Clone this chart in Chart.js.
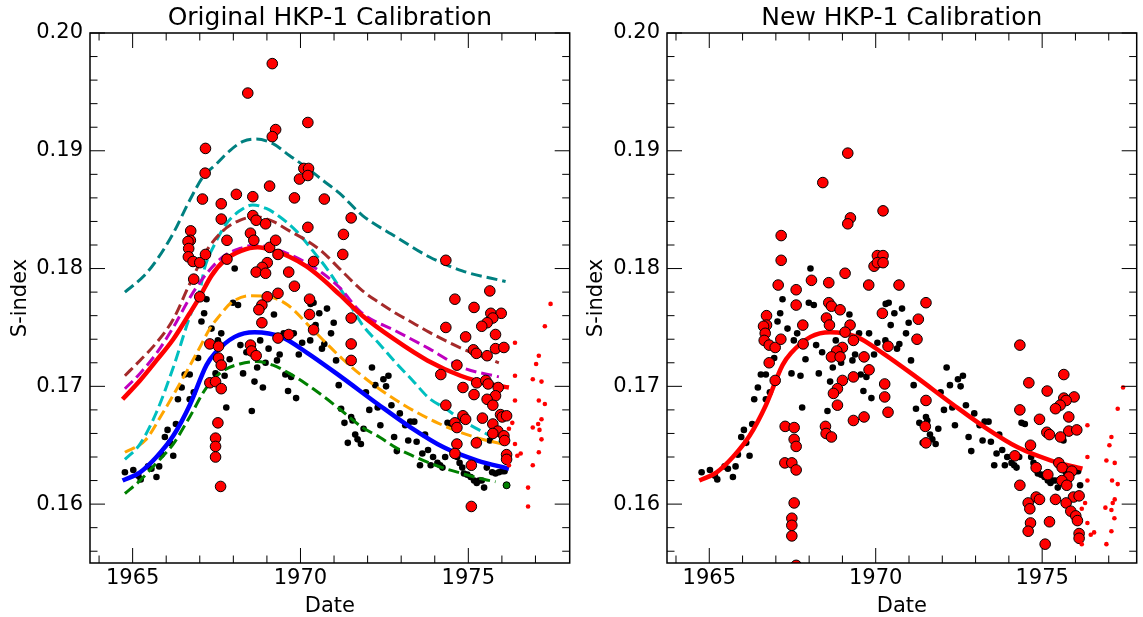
<!DOCTYPE html>
<html>
<head>
<meta charset="utf-8">
<script src="https://cdn.jsdelivr.net/npm/chart.js@4.4.0/dist/chart.umd.min.js"></script>
<style>
  html, body { margin: 0; padding: 0; background: #fff; overflow: hidden; }
  #wrap { position: relative; width: 1143px; height: 617px; }
  .panel { position: absolute; top: 0; height: 617px; }
</style>
</head>
<body>
<div id="wrap">
  <div class="panel" style="left:0;width:576px"><canvas id="origChart"></canvas></div>
  <div class="panel" style="left:576px;width:567px"><canvas id="newChart"></canvas></div>
</div>
<script>
// ---- tick labels ----
const yearTicks = [1965, 1970, 1975];
const sTicks = [0.16, 0.17, 0.18, 0.19, 0.20];

// ---- observations [date, S] (black = same in both panels) ----
const blackObs = [[1964.77,0.1627],[1965.02,0.1629],[1965.17,0.1624],[1965.24,0.1621],[1965.46,0.1632],[1965.56,0.1630],[1965.71,0.1623],[1965.79,0.1632],[1965.86,0.1642],[1966.21,0.1641],[1966.11,0.1652],[1965.96,0.1657],[1966.04,0.1663],[1966.29,0.1668],[1966.35,0.1689],[1966.46,0.1699],[1966.55,0.1710],[1966.70,0.1710],[1966.70,0.1689],[1966.82,0.1695],[1966.95,0.1724],[1967.05,0.1755],[1967.13,0.1762],[1967.20,0.1774],[1967.35,0.1749],[1967.47,0.1711],[1967.54,0.1739],[1967.64,0.1745],[1967.74,0.1709],[1967.79,0.1682],[1967.89,0.1723],[1967.99,0.1771],[1968.14,0.1769],[1968.21,0.1735],[1968.29,0.1711],[1968.39,0.1729],[1968.55,0.1679],[1968.63,0.1704],[1968.71,0.1716],[1968.80,0.1739],[1968.88,0.1699],[1968.96,0.1720],[1969.05,0.1732],[1969.21,0.1761],[1969.30,0.1722],[1969.38,0.1727],[1969.50,0.1745],[1969.55,0.1710],[1969.63,0.1696],[1969.72,0.1708],[1969.80,0.1745],[1969.87,0.1690],[1969.95,0.1727],[1970.05,0.1737],[1970.29,0.1739],[1970.30,0.1770],[1970.39,0.1771],[1970.45,0.1752],[1970.56,0.1762],[1970.64,0.1732],[1970.71,0.1736],[1970.79,0.1766],[1970.99,0.1754],[1971.06,0.1722],[1970.91,0.1745],[1971.14,0.1701],[1971.21,0.1681],[1971.31,0.1669],[1971.41,0.1652],[1971.51,0.1674],[1971.55,0.1671],[1971.63,0.1659],[1971.70,0.1655],[1971.80,0.1651],[1971.88,0.1664],[1971.95,0.1695],[1972.05,0.1680],[1972.13,0.1716],[1972.23,0.1701],[1972.30,0.1682],[1972.38,0.1667],[1972.47,0.1706],[1972.55,0.1700],[1972.62,0.1709],[1972.71,0.1684],[1972.79,0.1657],[1972.87,0.1645],[1972.96,0.1677],[1973.12,0.1667],[1973.21,0.1654],[1973.27,0.1670],[1973.39,0.1670],[1973.46,0.1653],[1973.56,0.1633],[1973.63,0.1643],[1973.71,0.1659],[1973.80,0.1646],[1973.88,0.1633],[1973.95,0.1640],[1974.08,0.1635],[1974.16,0.1633],[1974.23,0.1631],[1974.31,0.1640],[1974.38,0.1669],[1974.48,0.1668],[1974.67,0.1640],[1974.74,0.1635],[1974.82,0.1631],[1974.87,0.1626],[1974.97,0.1625],[1975.07,0.1623],[1975.17,0.1620],[1975.25,0.1618],[1975.32,0.1620],[1975.40,0.1620],[1975.47,0.1614],[1975.55,0.1631],[1975.64,0.1654],[1975.71,0.1627],[1975.81,0.1626],[1975.91,0.1627],[1976.01,0.1628],[1976.08,0.1628],[1968.04,0.1800],[1976.14,0.1616]];

const origRed = [[1969.16,0.1974],[1968.43,0.1949],[1970.22,0.1924],[1969.26,0.1918],[1969.16,0.1912],[1967.17,0.1902],[1967.16,0.1881],[1970.10,0.1885],[1970.24,0.1885],[1969.97,0.1876],[1970.22,0.1879],[1969.08,0.1870],[1967.08,0.1859],[1968.09,0.1863],[1968.58,0.1861],[1969.82,0.1860],[1970.71,0.1859],[1967.64,0.1855],[1967.64,0.1842],[1968.58,0.1845],[1968.68,0.1841],[1968.96,0.1838],[1966.73,0.1832],[1966.72,0.1824],[1966.65,0.1823],[1966.67,0.1817],[1966.66,0.1810],[1966.80,0.1806],[1967.00,0.1805],[1967.17,0.1812],[1967.81,0.1824],[1968.51,0.1830],[1968.61,0.1824],[1969.08,0.1818],[1969.26,0.1824],[1970.22,0.1835],[1969.33,0.1812],[1967.81,0.1808],[1969.01,0.1805],[1968.86,0.1801],[1968.68,0.1797],[1968.96,0.1796],[1969.65,0.1797],[1970.39,0.1806],[1966.82,0.1791],[1969.82,0.1785],[1969.33,0.1779],[1969.01,0.1776],[1970.27,0.1774],[1971.51,0.1843],[1971.28,0.1829],[1971.26,0.1812],[1974.33,0.1807],[1975.64,0.1781],[1974.60,0.1774],[1967.00,0.1776],[1968.85,0.1769],[1968.76,0.1765],[1968.85,0.1754],[1970.27,0.1761],[1970.39,0.1748],[1967.30,0.1736],[1967.56,0.1734],[1967.56,0.1724],[1967.64,0.1718],[1968.51,0.1735],[1968.54,0.1730],[1968.68,0.1726],[1969.33,0.1741],[1969.65,0.1744],[1967.30,0.1703],[1967.47,0.1704],[1967.64,0.1698],[1967.54,0.1669],[1967.47,0.1656],[1967.47,0.1649],[1967.47,0.1640],[1967.62,0.1615],[1975.17,0.1767],[1975.67,0.1762],[1975.98,0.1762],[1975.73,0.1758],[1975.56,0.1754],[1975.40,0.1751],[1974.33,0.1750],[1971.51,0.1758],[1971.51,0.1736],[1971.51,0.1722],[1974.92,0.1742],[1975.81,0.1744],[1975.81,0.1732],[1976.06,0.1733],[1975.15,0.1731],[1975.24,0.1728],[1975.56,0.1726],[1974.66,0.1718],[1974.18,0.1710],[1975.25,0.1703],[1975.52,0.1705],[1975.59,0.1702],[1975.89,0.1699],[1974.84,0.1699],[1975.17,0.1693],[1975.81,0.1692],[1975.56,0.1689],[1975.73,0.1684],[1974.33,0.1684],[1974.84,0.1675],[1974.92,0.1672],[1975.42,0.1673],[1975.96,0.1676],[1976.01,0.1674],[1976.14,0.1675],[1974.60,0.1669],[1974.66,0.1665],[1975.73,0.1668],[1975.88,0.1662],[1975.73,0.1660],[1976.06,0.1658],[1976.08,0.1654],[1975.24,0.1652],[1974.66,0.1651],[1974.60,0.1643],[1976.14,0.1642],[1976.14,0.1638],[1975.09,0.1633],[1975.09,0.1598]];

const origTail = [[1977.45,0.1770],[1977.28,0.1751],[1976.39,0.1737],[1977.10,0.1726],[1977.02,0.1719],[1976.39,0.1709],[1976.92,0.1706],[1977.18,0.1704],[1976.39,0.1688],[1977.10,0.1688],[1977.28,0.1685],[1976.31,0.1669],[1977.18,0.1672],[1977.08,0.1668],[1976.92,0.1665],[1977.12,0.1663],[1976.21,0.1664],[1977.18,0.1655],[1976.39,0.1651],[1977.10,0.1644],[1976.56,0.1643],[1976.46,0.1641],[1976.21,0.1633],[1976.92,0.1633],[1976.78,0.1614],[1976.78,0.1598]];

const greenEnd = [[1976.14,0.1616]];

const newRed = [[1969.16,0.1898],[1968.41,0.1873],[1969.24,0.1843],[1969.16,0.1838],[1970.22,0.1849],[1967.16,0.1828],[1967.16,0.1807],[1970.05,0.1811],[1970.22,0.1811],[1969.95,0.1802],[1970.05,0.1805],[1970.22,0.1805],[1969.08,0.1796],[1968.07,0.1790],[1967.07,0.1786],[1967.61,0.1782],[1968.59,0.1788],[1969.79,0.1786],[1970.70,0.1786],[1967.61,0.1769],[1966.72,0.1760],[1966.72,0.1752],[1966.63,0.1751],[1966.68,0.1745],[1966.65,0.1739],[1966.80,0.1735],[1966.98,0.1733],[1967.15,0.1740],[1967.81,0.1752],[1967.82,0.1736],[1966.80,0.1720],[1966.98,0.1705],[1968.59,0.1771],[1968.67,0.1768],[1968.93,0.1765],[1968.52,0.1758],[1968.61,0.1752],[1969.23,0.1752],[1969.08,0.1746],[1969.33,0.1739],[1969.00,0.1733],[1968.83,0.1730],[1968.67,0.1725],[1968.93,0.1725],[1969.65,0.1725],[1969.80,0.1714],[1969.33,0.1708],[1969.00,0.1705],[1968.85,0.1698],[1968.73,0.1694],[1968.85,0.1684],[1970.27,0.1702],[1970.27,0.1691],[1970.37,0.1678],[1969.65,0.1674],[1969.33,0.1671],[1970.20,0.1762],[1970.37,0.1734],[1968.49,0.1666],[1968.51,0.1660],[1968.67,0.1657],[1967.28,0.1666],[1967.55,0.1665],[1967.55,0.1655],[1967.61,0.1649],[1967.27,0.1635],[1967.48,0.1635],[1967.61,0.1629],[1967.55,0.1601],[1967.48,0.1588],[1967.48,0.1582],[1967.48,0.1573],[1967.61,0.1548],[1971.51,0.1771],[1971.28,0.1757],[1971.24,0.1740],[1971.51,0.1688],[1971.49,0.1666],[1971.51,0.1652],[1974.33,0.1735],[1974.60,0.1703],[1975.15,0.1696],[1975.65,0.1710],[1975.96,0.1691],[1975.65,0.1690],[1975.72,0.1688],[1975.54,0.1684],[1975.40,0.1681],[1974.33,0.1680],[1975.80,0.1674],[1974.92,0.1672],[1975.14,0.1661],[1975.22,0.1659],[1975.80,0.1662],[1976.04,0.1663],[1975.55,0.1657],[1974.65,0.1650],[1974.18,0.1641],[1974.82,0.1631],[1975.17,0.1625],[1975.50,0.1635],[1975.60,0.1631],[1975.89,0.1628],[1975.80,0.1623],[1975.59,0.1620],[1975.74,0.1616],[1974.33,0.1616],[1974.82,0.1606],[1974.92,0.1604],[1975.40,0.1604],[1975.94,0.1606],[1976.11,0.1607],[1974.58,0.1601],[1974.63,0.1596],[1975.72,0.1601],[1975.86,0.1594],[1976.01,0.1590],[1976.06,0.1586],[1975.22,0.1585],[1974.65,0.1584],[1974.58,0.1577],[1976.11,0.1575],[1976.11,0.1571],[1975.09,0.1566]];

const newTail = [[1977.43,0.1699],[1977.27,0.1681],[1976.36,0.1667],[1977.08,0.1657],[1977.02,0.1650],[1976.36,0.1640],[1976.93,0.1637],[1977.18,0.1635],[1976.36,0.1620],[1977.10,0.1620],[1977.27,0.1617],[1977.18,0.1604],[1976.29,0.1601],[1977.12,0.1601],[1976.90,0.1597],[1977.08,0.1595],[1976.19,0.1596],[1977.17,0.1588],[1976.36,0.1584],[1977.08,0.1577],[1976.56,0.1576],[1976.46,0.1574],[1976.19,0.1566],[1976.93,0.1566]];

// ---- fitted curves [date, S] ----
const blackFit = [[1964.70,0.1620],[1965.22,0.1627],[1965.71,0.1640],[1966.21,0.1658],[1966.70,0.1684],[1967.20,0.1718],[1967.45,0.1728],[1968.04,0.1742],[1968.63,0.1746],[1969.43,0.1742],[1970.22,0.1728],[1971.21,0.1708],[1972.30,0.1685],[1973.29,0.1665],[1974.28,0.1648],[1975.27,0.1637],[1976.21,0.1630]];
const redFit = [[1964.70,0.1689],[1965.22,0.1705],[1965.71,0.1722],[1966.21,0.1740],[1966.70,0.1762],[1967.00,0.1776],[1967.35,0.1794],[1967.74,0.1807],[1968.23,0.1815],[1968.73,0.1818],[1969.22,0.1815],[1969.67,0.1810],[1970.17,0.1802],[1970.66,0.1791],[1971.16,0.1778],[1971.80,0.1761],[1972.79,0.1740],[1973.78,0.1722],[1974.77,0.1709],[1975.62,0.1702],[1976.21,0.1699]];
const tealFit = [[1964.77,0.1780],[1965.31,0.1793],[1965.71,0.1807],[1966.21,0.1830],[1966.70,0.1858],[1967.10,0.1878],[1967.50,0.1889],[1967.89,0.1900],[1968.29,0.1908],[1968.68,0.1910],[1969.18,0.1906],[1969.67,0.1896],[1970.17,0.1886],[1970.66,0.1875],[1971.16,0.1864],[1971.85,0.1845],[1972.84,0.1827],[1973.83,0.1810],[1974.82,0.1798],[1976.11,0.1789]];
const brownFit = [[1964.77,0.1709],[1965.22,0.1722],[1965.71,0.1737],[1966.21,0.1757],[1966.70,0.1787],[1967.20,0.1815],[1967.69,0.1832],[1968.19,0.1841],[1968.68,0.1844],[1969.18,0.1840],[1969.67,0.1832],[1970.17,0.1824],[1970.66,0.1814],[1971.16,0.1800],[1971.85,0.1781],[1972.35,0.1771],[1972.84,0.1762],[1973.34,0.1754],[1973.83,0.1746],[1974.82,0.1732],[1975.91,0.1720]];
const magentaFit = [[1964.77,0.1698],[1965.22,0.1711],[1965.71,0.1728],[1966.21,0.1750],[1966.70,0.1775],[1967.10,0.1792],[1967.69,0.1810],[1968.19,0.1817],[1968.68,0.1820],[1969.18,0.1817],[1969.67,0.1812],[1970.17,0.1805],[1970.66,0.1796],[1971.16,0.1784],[1971.80,0.1763],[1972.84,0.1747],[1973.83,0.1732],[1974.82,0.1716],[1975.91,0.1708]];
const cyanFit = [[1964.77,0.1638],[1965.22,0.1651],[1965.71,0.1678],[1966.21,0.1716],[1966.70,0.1759],[1967.00,0.1781],[1967.15,0.1801],[1967.45,0.1821],[1967.79,0.1838],[1968.19,0.1849],[1968.58,0.1854],[1968.98,0.1851],[1969.38,0.1844],[1969.87,0.1832],[1970.37,0.1815],[1970.86,0.1797],[1971.36,0.1775],[1971.85,0.1752],[1972.35,0.1736],[1972.84,0.1720],[1973.34,0.1705],[1973.83,0.1690],[1974.33,0.1681],[1974.82,0.1671],[1975.32,0.1663],[1976.11,0.1651]];
const orangeFit = [[1964.77,0.1644],[1965.37,0.1654],[1965.91,0.1678],[1966.46,0.1705],[1967.00,0.1733],[1967.30,0.1749],[1967.59,0.1760],[1967.94,0.1771],[1968.48,0.1777],[1969.08,0.1776],[1969.62,0.1769],[1970.37,0.1748],[1971.26,0.1723],[1972.10,0.1703],[1973.09,0.1684],[1974.08,0.1669],[1975.17,0.1657],[1976.01,0.1651]];
const greenFit = [[1964.77,0.1609],[1965.22,0.1620],[1965.71,0.1635],[1966.21,0.1651],[1966.70,0.1674],[1967.20,0.1699],[1967.69,0.1713],[1968.19,0.1719],[1968.68,0.1721],[1969.18,0.1718],[1969.67,0.1711],[1970.17,0.1702],[1970.66,0.1692],[1971.11,0.1682],[1971.85,0.1665],[1972.35,0.1657],[1972.84,0.1648],[1973.34,0.1641],[1973.83,0.1635],[1974.33,0.1630],[1974.82,0.1626],[1975.32,0.1622],[1975.81,0.1619]];

Chart.defaults.font.family = "'DejaVu Sans', sans-serif";
Chart.defaults.color = '#000';

const toPts = arr => arr.map(([x, y]) => ({ x, y }));

const dots = (arr, color, r, edge) => ({
  data: toPts(arr),
  backgroundColor: color,
  borderColor: '#000',
  borderWidth: edge ? 1 : 0,
  pointRadius: r
});

const curve = (arr, color, width, dash) => ({
  data: toPts(arr),
  showLine: true,
  borderColor: color,
  borderWidth: width,
  borderDash: dash || [],
  borderCapStyle: 'butt',
  pointRadius: 0,
  cubicInterpolationMode: 'monotone'
});

// inward ticks on all four sides + box
const frame = {
  id: 'frame',
  afterDatasetsDraw(chart) {
    const { ctx, chartArea: a, scales: { x, y } } = chart;
    ctx.save();
    ctx.strokeStyle = '#000';
    ctx.lineWidth = 1;
    ctx.beginPath();
    for (let yr = 1964; yr <= 1978; yr++) {
      const px = x.getPixelForValue(yr);
      if (px <= a.left + 1 || px >= a.right - 1) continue;
      const len = yr % 5 === 0 ? 15 : 7.5;
      ctx.moveTo(px, a.bottom); ctx.lineTo(px, a.bottom - len);
      ctx.moveTo(px, a.top); ctx.lineTo(px, a.top + len);
    }
    for (let m = 156; m <= 200; m += 2) {
      const py = y.getPixelForValue(m / 1000);
      const len = m % 10 === 0 ? 15 : 7.5;
      ctx.moveTo(a.left, py); ctx.lineTo(a.left + len, py);
      ctx.moveTo(a.right, py); ctx.lineTo(a.right - len, py);
    }
    ctx.stroke();
    ctx.lineWidth = 1.5;
    ctx.strokeRect(a.left, a.top, a.right - a.left, a.bottom - a.top);
    ctx.restore();
  }
};

function makePanel(id, title, xMax, yWidth, padRight, datasets) {
  return new Chart(document.getElementById(id), {
    type: 'scatter',
    data: { datasets },
    options: {
      responsive: true,
      maintainAspectRatio: false,
      animation: false,
      events: [],
      layout: { padding: { left: 0, right: padRight, top: 0, bottom: 0 } },
      plugins: {
        legend: { display: false },
        tooltip: { enabled: false },
        title: {
          display: true, text: title, fullSize: false, color: '#000',
          font: { size: 25, weight: 'normal', lineHeight: 1.2 },
          padding: { top: 3, bottom: 0 }
        }
      },
      scales: {
        x: {
          type: 'linear', min: 1963.73, max: xMax,
          grid: { display: false, drawTicks: false },
          border: { display: false },
          ticks: { font: { size: 21 }, padding: 3, maxRotation: 0, callback: v => String(v) },
          afterBuildTicks: s => { s.ticks = yearTicks.map(v => ({ value: v })); },
          afterFit: s => { s.height = 54; },
          title: { display: true, text: 'Date', font: { size: 21, lineHeight: 1 }, padding: 0 }
        },
        y: {
          type: 'linear', min: 0.155, max: 0.20,
          grid: { display: false, drawTicks: false },
          border: { display: false },
          ticks: { font: { size: 21 }, padding: 7, callback: v => v.toFixed(2) },
          afterBuildTicks: s => { s.ticks = sTicks.map(v => ({ value: v })); },
          afterFit: s => { s.width = yWidth; },
          title: { display: true, text: 'S-index', font: { size: 21, lineHeight: 1 }, padding: { top: 10.5, bottom: 0 } }
        }
      }
    },
    plugins: [frame]
  });
}

// first dataset is drawn on top
const dash = [11, 5];
makePanel('origChart', 'Original HKP-1 Calibration', 1978.02, 90, 5, [
  dots(origTail, '#ff0000', 2.3, false),
  dots(greenEnd, '#008000', 3.5, true),
  dots(origRed, '#ff0000', 5.3, true),
  curve(redFit, '#ff0000', 4.5),
  curve(blackFit, '#0000ff', 4.5),
  curve(tealFit, '#008080', 3, dash),
  curve(brownFit, '#a52a2a', 3, dash),
  curve(magentaFit, '#bf00bf', 3, dash),
  curve(cyanFit, '#00bfbf', 3, dash),
  curve(orangeFit, '#ffa500', 3, dash),
  curve(greenFit, '#008000', 3, dash),
  dots(blackObs, '#000000', 3.3, false)
]);

makePanel('newChart', 'New HKP-1 Calibration', 1977.84, 91, 1, [
  dots(newTail, '#ff0000', 2.3, false),
  dots(newRed, '#ff0000', 5.3, true),
  curve(blackFit, '#ff0000', 4.5),
  dots(blackObs, '#000000', 3.3, false)
]);
</script>
</body>
</html>
